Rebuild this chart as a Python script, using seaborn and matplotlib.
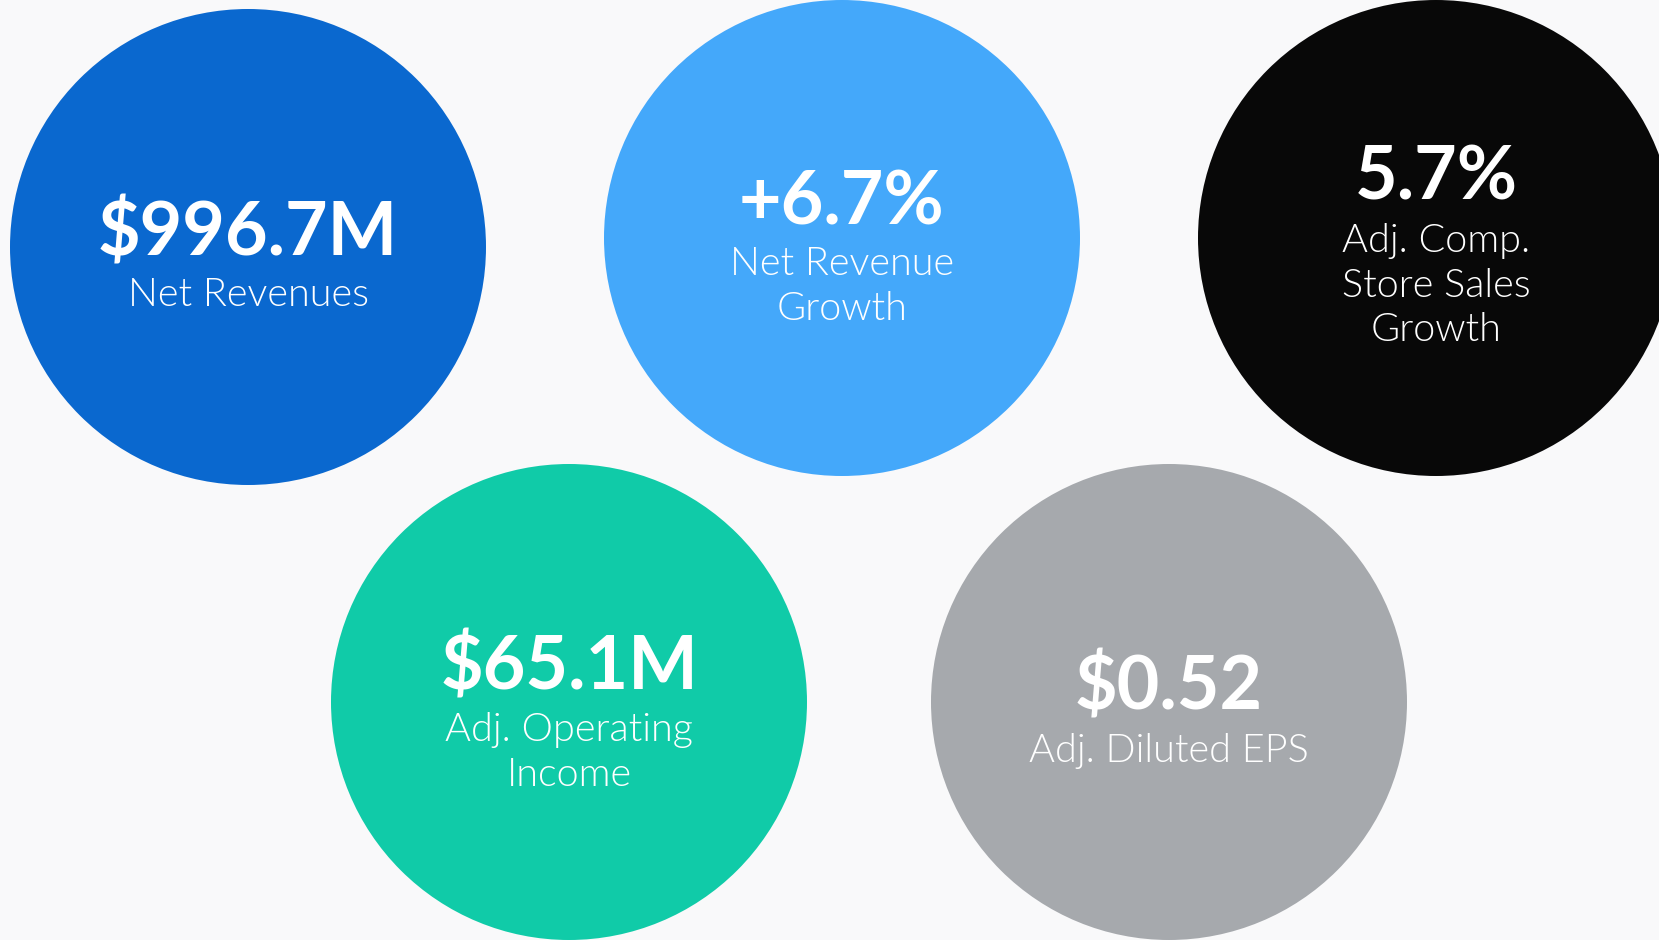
import matplotlib
matplotlib.use("Agg")
import matplotlib.pyplot as plt
import seaborn as sns
import pandas as pd

# ---- data ----
metrics = ["Net Revenues", "Net Revenue Growth", "Adj. Comp. Store Sales Growth",
           "Adj. Operating Income", "Adj. Diluted EPS"]
values = ["$996.7M", "+6.7%", "5.7%", "$65.1M", "$0.52"]
captions = ["Net Revenues", "Net Revenue\nGrowth", "Adj. Comp.\nStore Sales\nGrowth",
            "Adj. Operating\nIncome", "Adj. Diluted EPS"]

# ---- layout / style ----
W, H = 1659, 940
centers_x = [248, 842, 1436, 569, 1169]
centers_y = [247, 238, 238, 702, 702]
value_y = [233, 203, 178, 667, 688]
caption_top = [277, 246, 223, 712, 733]
colors = ["#0A68CF", "#44A8FA", "#080808", "#10CBA8", "#A6A9AD"]
radius_px = 238
bg = "#F9F9FA"

sns.set_theme(style="white")
plt.rcParams["font.family"] = ["Lato", "DejaVu Sans"]

dpi = 100
fig = plt.figure(figsize=(W / dpi, H / dpi), dpi=dpi, facecolor=bg)
ax = fig.add_axes([0, 0, 1, 1])
ax.set_facecolor(bg)
ax.set_xlim(0, W)
ax.set_ylim(H, 0)
ax.axis("off")

df = pd.DataFrame({"metric": metrics, "x": centers_x, "y": centers_y})
diam_pt = 2 * radius_px * 72 / dpi
sns.scatterplot(data=df, x="x", y="y", hue="metric", palette=colors,
                s=diam_pt ** 2, linewidth=0, legend=False, ax=ax, zorder=1)
ax.set_xlim(0, W)
ax.set_ylim(H, 0)

for i in range(len(values)):
    ax.text(centers_x[i], value_y[i], values[i], ha="center", va="center",
            color="white", fontsize=53, fontweight="bold", zorder=3)
    ax.text(centers_x[i], caption_top[i], captions[i], ha="center", va="top",
            color="white", fontsize=28.5, fontweight=300, linespacing=1.3, zorder=3)

fig.savefig("out.png", dpi=dpi, facecolor=bg)
